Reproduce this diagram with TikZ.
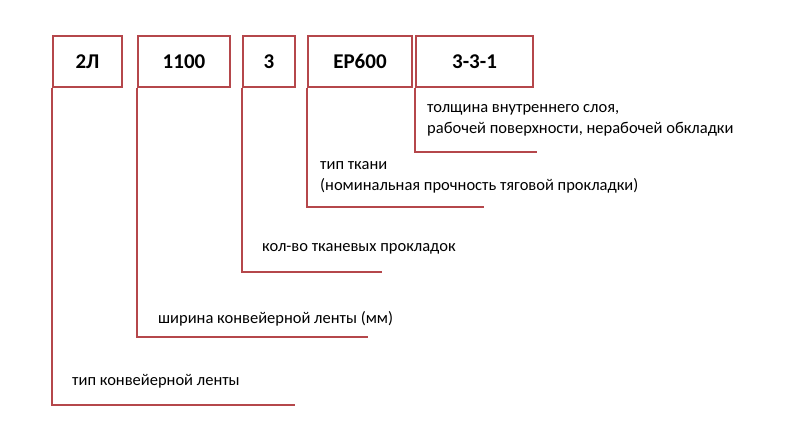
\documentclass[tikz,border=0pt]{standalone}
\usepackage{fontspec}
\setmainfont{Carlito}
\definecolor{rl}{HTML}{B5474B}
\begin{document}
\begin{tikzpicture}[x=1pt,y=-1pt,
 lbl/.style={draw=rl,line width=2.4pt,minimum height=51pt,inner sep=0pt,font=\bfseries\fontsize{21}{24}\selectfont},
 ln/.style={draw=rl,line width=2.4pt},
 txt/.style={anchor=west,font=\fontsize{16.5}{21}\selectfont,align=left,inner sep=0pt}]
\useasboundingbox (0,0) rectangle (800,440);
\node[lbl,minimum width=69pt] (b1) at (87.5,61.5) {2Л};
\node[lbl,minimum width=92pt] (b2) at (184,61.5) {1100};
\node[lbl,minimum width=52pt] (b3) at (269,61.5) {3};
\node[lbl,minimum width=104pt] (b4) at (360,61.5) {EP600};
\node[lbl,minimum width=117pt] (b5) at (474.5,61.5) {3-3-1};
\coordinate (e1) at (295,405); \coordinate (e2) at (368,337);
\coordinate (e3) at (382,272); \coordinate (e4) at (484,207);
\coordinate (e5) at (537,152);
\draw[ln] (b1.south west) |- (e1);
\draw[ln] (b2.south west) |- (e2);
\draw[ln] (b3.south west) |- (e3);
\draw[ln] (b4.south west) |- (e4);
\draw[ln] (b5.south west) |- (e5);
\node[txt] (t1) at (72,381) {тип конвейерной ленты};
\node[txt] (t2) at (158,319) {ширина конвейерной ленты (мм)};
\node[txt] (t3) at (262,249) {кол-во тканевых прокладок};
\node[txt] (t4) at (320,177) {тип ткани\\(номинальная прочность тяговой прокладки)};
\node[txt] (t5) at (427,120.5) {толщина внутреннего слоя,\\рабочей поверхности, нерабочей обкладки};
\end{tikzpicture}
\end{document}
